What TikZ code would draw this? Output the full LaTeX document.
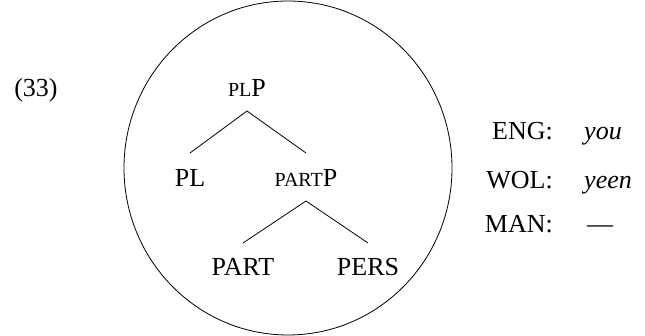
\documentclass[tikz,border=0pt]{standalone}
\usepackage{fontspec}
\setmainfont{Liberation Serif}
\newcommand{\fsc}[1]{{\fontsize{20}{22}\selectfont #1}}
\begin{document}
\begin{tikzpicture}[x=1pt,y=-1pt,
  every node/.style={inner sep=0pt, anchor=base, font=\fontsize{26}{30}\selectfont},
  branch/.style={line width=0.8pt},
  lab/.style={anchor=base east},
  val/.style={anchor=base west, font=\fontsize{26}{30}\selectfont\itshape}]
\useasboundingbox (0,0) rectangle (645,336);
\draw[branch] (288,168) ellipse [x radius=164, y radius=167];
\node (ex) at (36,97) {(33)};
\node (plp) at (247,97) {\fsc{PL}P};
\node (pl) at (190,187) {PL};
\node (partp) at (306,187) {\fsc{PART}P};
\node (part) at (243,276) {PART};
\node (pers) at (368,276) {PERS};
\draw[branch] ([yshift=-14pt]plp.base) -- ([yshift=34pt]pl.base);
\draw[branch] ([yshift=-14pt]plp.base) -- ([yshift=34pt]partp.base);
\draw[branch] ([yshift=-14pt]partp.base) -- ([yshift=33pt]part.base);
\draw[branch] ([yshift=-14pt]partp.base) -- ([yshift=33pt]pers.base);
\node[lab] (eng) at (553,140) {ENG:};
\node[val] (you) at (584,140) {you};
\node[lab] (wol) at (553,189) {WOL:};
\node[val] (yeen) at (584,189) {yeen};
\node[lab] (man) at (553,233) {MAN:};
\node[anchor=base west] (none) at (587,233) {—};
\end{tikzpicture}
\end{document}
